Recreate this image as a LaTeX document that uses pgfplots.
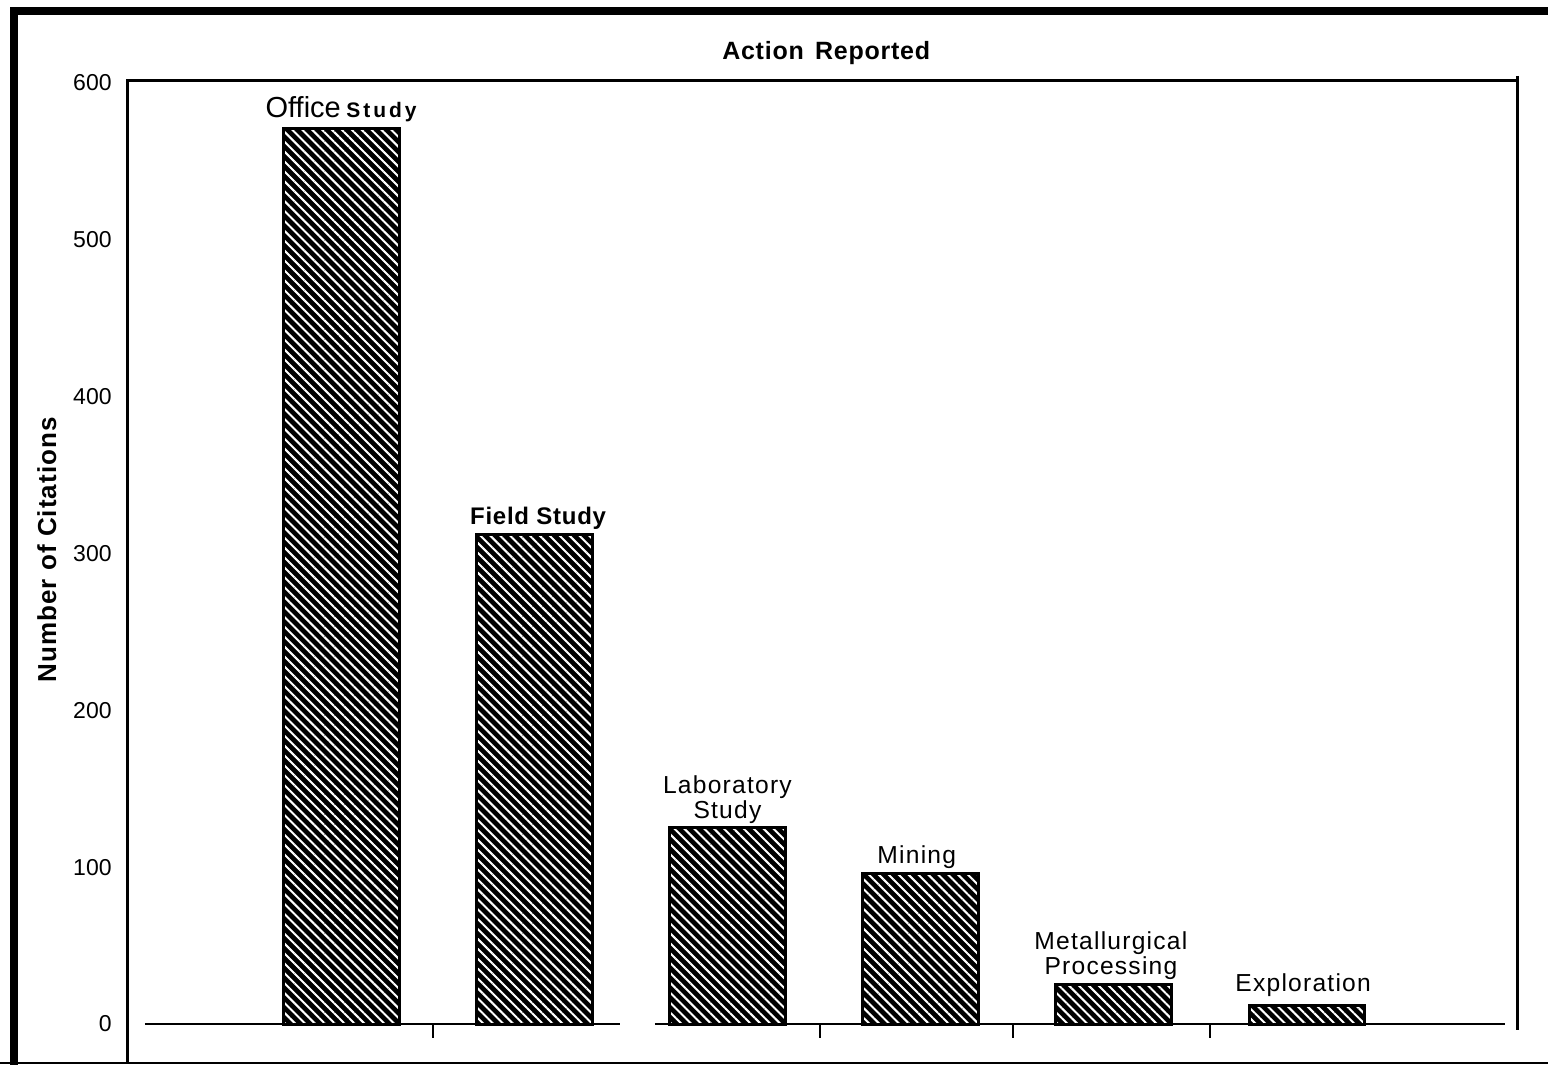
\documentclass[border=0pt]{standalone}
\usepackage{fontspec}
\setmainfont{Liberation Sans}
\usepackage{pgfplots}
\pgfplotsset{compat=1.18}
\usetikzlibrary{patterns.meta}

\newcommand{\lab}{\fontsize{12.3}{12.5}\selectfont\addfontfeature{LetterSpace=5}}

\begin{document}
\begin{tikzpicture}
\useasboundingbox (0,0) rectangle (774pt,532.5pt);
% outer frame
\draw[line width=4pt] (7pt,0) -- (7pt,528.75pt);
\draw[line width=4pt] (5pt,526.75pt) -- (774pt,526.75pt);
\draw[line width=1pt] (0,1pt) -- (774pt,1pt);
\begin{axis}[
  at={(63.5pt,0.5pt)}, anchor=south west,
  scale only axis, width=695pt, height=491.5pt,
  xmin=-1.108, xmax=6.087, ymin=-25.5, ymax=601.3,
  axis line style={draw=none},
  xtick=\empty,
  ytick={0,100,...,600},
  major tick length=0pt,
  tick style={draw=none},
  /pgf/number format/assume math mode=true,
  yticklabel style={font=\fontsize{11.5}{13}\selectfont, anchor=east, inner sep=0pt, xshift=-7.5pt},
  ylabel={Number of Citations},
  ylabel style={font=\bfseries\fontsize{13}{14}\selectfont\addfontfeature{LetterSpace=4}, at={(axis description cs:-0.0576,0.523)}, anchor=center},
  title={Action\hspace{0.45em}Reported},
  title style={font=\bfseries\fontsize{12.5}{14}\selectfont\addfontfeature{LetterSpace=3}, at={(axis description cs:0.503,1)}, anchor=center, yshift=8pt},
  clip=false,
]
\addplot[ybar, bar width=0.6, draw=black, line width=1.5pt,
  preaction={fill=black},
  pattern={Lines[angle=-45,distance=3.5pt,line width=1pt]}, pattern color=white]
  coordinates {(0,571) (1,312) (2,125) (3,96) (4,25) (5,12)};

% baseline and ticks
\draw[line width=1.1pt] (axis cs:-1.015,0) -- (axis cs:1.444,0);
\draw[line width=1.1pt] (axis cs:1.625,0) -- (axis cs:6.025,0);
\pgfplotsinvokeforeach{0.476,2.48,3.48,4.50}{
  \draw[line width=1pt] (axis cs:#1,0) -- (axis cs:#1,-9);
}
% axis frame
\draw[line width=1.5pt] (rel axis cs:0,0) -- (rel axis cs:0,1) -- (rel axis cs:1,1);
\draw[line width=1.5pt] (axis cs:6.087,604.5) -- (axis cs:6.087,-3.8);

% bar labels
\node[anchor=south, inner sep=3pt] at (axis cs:0,571)
  {{\fontsize{14.5}{15}\selectfont Office} {\bfseries\fontsize{10.5}{12}\selectfont\addfontfeature{LetterSpace=14}Study}};
\node[anchor=south, inner sep=2.5pt, font=\bfseries\fontsize{12}{14}\selectfont\addfontfeature{LetterSpace=3}] at (axis cs:1.02,312) {Field Study};
\node[anchor=south, inner sep=2pt, align=center, font=\lab] at (axis cs:2,125) {Laboratory\\Study};
\node[anchor=south, inner sep=2pt, font=\lab] at (axis cs:2.98,96) {Mining};
\node[anchor=south, inner sep=2.5pt, align=center, font=\lab] at (axis cs:3.985,25) {Metallurgical\\Processing};
\node[anchor=south, inner sep=4pt, font=\lab] at (axis cs:4.98,12) {Exploration};
\end{axis}
\end{tikzpicture}
\end{document}
